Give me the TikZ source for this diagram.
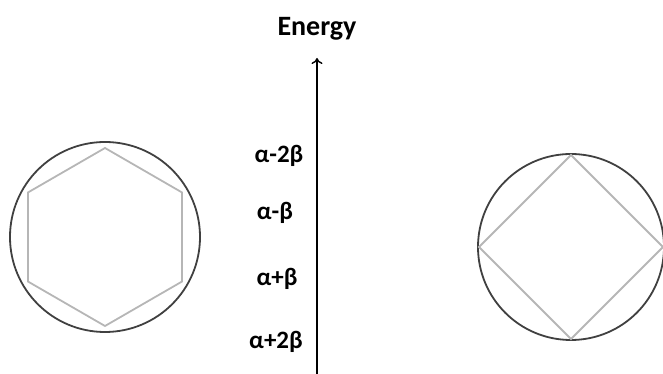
\documentclass[tikz,border=0pt]{standalone}
\usepackage{fontspec}
\setmainfont{Carlito}
\usetikzlibrary{arrows.meta,positioning}
\definecolor{ringgray}{RGB}{64,64,64}
\definecolor{bondgray}{RGB}{182,182,182}

\begin{document}
\begin{tikzpicture}[x=1pt,y=1pt,
 ring/.style={draw=ringgray,line width=1.8pt},
 bond/.style={draw=bondgray,line width=1.8pt},
 lvl/.style={font=\bfseries\fontsize{25}{30}\selectfont,inner sep=0pt},
 arr/.style={-{To[length=6pt,width=11pt]},line width=1.4pt}
]
\useasboundingbox (0,0) rectangle (663,374);
% hexagonal ring, left
\begin{scope}[shift={(105,137)}]
\draw[ring] (0,0) circle (95);
\draw[bond] (90:89) \foreach \a in {150,210,270,330,30} {-- (\a:89)} -- cycle;
\end{scope}
% square ring, right
\begin{scope}[shift={(571,127)}]
\draw[ring] (0,0) circle (93);
\draw[bond] (90:92) \foreach \a in {180,270,0} {-- (\a:92)} -- cycle;
\end{scope}
% energy axis
\coordinate (axisfoot) at (317,0);
\coordinate (axistop) at (317,316);
\draw[arr] (axisfoot) -- (axistop);
\node[lvl,font=\bfseries\fontsize{28}{34}\selectfont,above=18pt of axistop] (energy) {Energy};
\node[lvl] (lvlA) at (279,218) {α-2β};
\node[lvl] (lvlB) at (275,161) {α-β};
\node[lvl] (lvlC) at (277,95) {α+β};
\node[lvl] (lvlD) at (276,32) {α+2β};
\end{tikzpicture}
\end{document}
